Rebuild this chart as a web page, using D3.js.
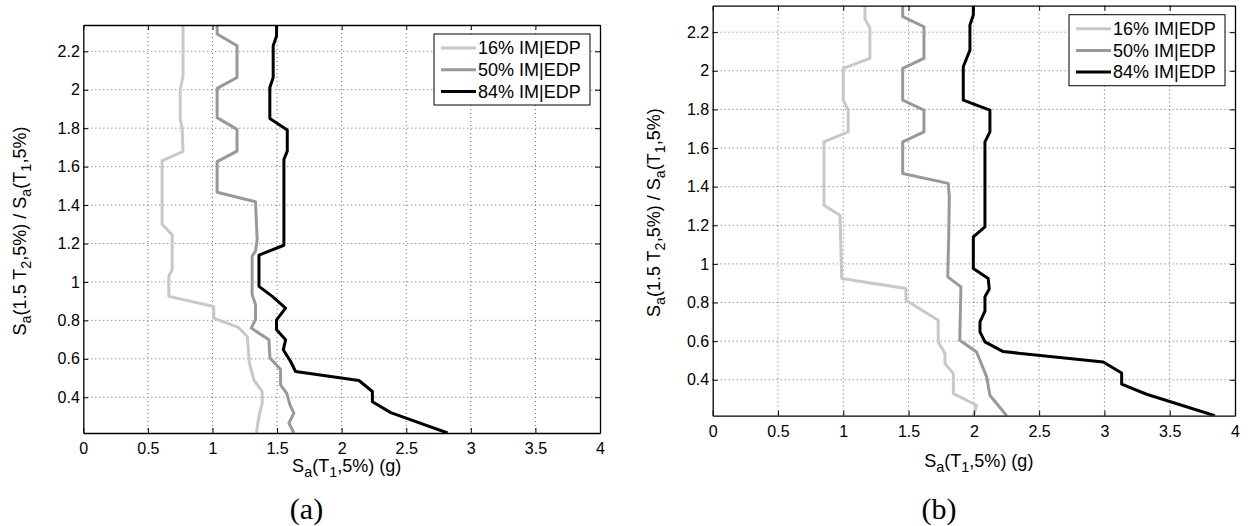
<!DOCTYPE html>
<meta charset="utf-8">
<style>
  body { margin: 0; background: #fff; }
  text { font-family: "Liberation Sans", Arial, sans-serif; }
</style>
<svg width="1253" height="526"></svg>
<script src="https://d3js.org/d3.v7.min.js"></script>
<script>
var svg = d3.select("svg");

// tick values shared by both panels
var xTicks = [0, 0.5, 1, 1.5, 2, 2.5, 3, 3.5, 4];
var xTickLabels = ["0", "0.5", "1", "1.5", "2", "2.5", "3", "3.5", "4"];
var yTicks = [0.4, 0.6, 0.8, 1, 1.2, 1.4, 1.6, 1.8, 2, 2.2];
var yTickLabels = ["0.4", "0.6", "0.8", "1", "1.2", "1.4", "1.6", "1.8", "2", "2.2"];
var yDomain = [0.214, 2.337];

var seriesNames = ["16% IM|EDP", "50% IM|EDP", "84% IM|EDP"];
var seriesColors = ["#c8c8c8", "#999999", "#000000"];

// panel (a): [Sa(T1), ratio] pairs
var a16 = [[0.772,2.337],[0.772,2.07],[0.75,2.0],[0.75,1.85],[0.765,1.80],[0.772,1.68],[0.61,1.63],[0.61,1.30],
  [0.688,1.245],[0.688,1.064],[0.662,1.03],[0.662,0.925],[1.01,0.872],[1.01,0.812],[1.204,0.762],[1.27,0.715],
  [1.285,0.58],[1.32,0.49],[1.385,0.43],[1.385,0.37],[1.36,0.30],[1.34,0.214]];
var a50 = [[1.036,2.337],[1.036,2.29],[1.19,2.229],[1.19,2.064],[1.036,2.007],[1.036,1.855],[1.19,1.794],[1.19,1.681],
  [1.036,1.626],[1.036,1.467],[1.333,1.417],[1.346,1.22],[1.333,1.16],[1.307,1.134],[1.307,0.934],[1.333,0.882],
  [1.333,0.803],[1.30,0.76],[1.437,0.699],[1.445,0.604],[1.527,0.545],[1.527,0.465],[1.575,0.42],[1.60,0.36],
  [1.63,0.317],[1.592,0.265],[1.63,0.214]];
var a84 = [[1.496,2.337],[1.496,2.28],[1.47,2.229],[1.47,2.064],[1.444,2.012],[1.444,1.85],[1.579,1.791],[1.579,1.681],
  [1.553,1.638],[1.553,1.191],[1.36,1.14],[1.36,0.977],[1.463,0.925],[1.566,0.864],[1.496,0.803],[1.496,0.751],
  [1.566,0.699],[1.548,0.647],[1.605,0.586],[1.643,0.534],[2.134,0.487],[2.238,0.43],[2.238,0.377],[2.38,0.32],
  [2.82,0.214]];

// panel (b)
var b16 = [[1.166,2.337],[1.166,2.27],[1.204,2.22],[1.204,2.064],[1.0,2.012],[1.0,1.848],[1.038,1.796],[1.038,1.684],
  [0.852,1.632],[0.852,1.304],[0.975,1.252],[0.988,0.924],[1.48,0.873],[1.48,0.812],[1.727,0.708],[1.727,0.596],
  [1.779,0.536],[1.779,0.484],[1.843,0.432],[1.843,0.328],[2.021,0.268],[1.996,0.214]];
var b50 = [[1.455,2.337],[1.455,2.28],[1.618,2.228],[1.618,2.064],[1.455,2.012],[1.455,1.848],[1.618,1.796],[1.618,1.684],
  [1.455,1.632],[1.455,1.468],[1.804,1.417],[1.812,1.347],[1.808,1.158],[1.80,0.933],[1.901,0.881],[1.892,0.605],
  [2.021,0.544],[2.098,0.415],[2.123,0.32],[2.251,0.214]];
var b84 = [[1.996,2.337],[1.996,2.289],[1.97,2.237],[1.97,2.107],[1.919,2.021],[1.919,1.848],[2.123,1.796],[2.123,1.684],
  [2.085,1.632],[2.085,1.192],[1.996,1.14],[1.996,0.976],[2.11,0.924],[2.118,0.87],[2.085,0.83],[2.085,0.755],
  [2.047,0.70],[2.047,0.648],[2.085,0.596],[2.225,0.546],[2.991,0.492],[3.132,0.435],[3.132,0.377],[3.323,0.325],
  [3.846,0.214]];

// write text made of [string, isSubscript] parts
function richText(sel, parts, size) {
  var prevSub = false;
  parts.forEach(function(p) {
    var t = sel.append("tspan").text(p[0]);
    if (p[1]) t.attr("font-size", size * 0.8).attr("dy", 5);
    else t.attr("font-size", size).attr("dy", prevSub ? -5 : 0);
    prevSub = !!p[1];
  });
}

var xLabelParts = [["S",0],["a",1],["(T",0],["1",1],[",5%) (g)",0]];
var yLabelParts = [["S",0],["a",1],["(1.5 T",0],["2",1],[",5%) / S",0],["a",1],["(T",0],["1",1],[",5%)",0]];

function drawPanel(p) {
  var x = d3.scaleLinear().domain([0, 4]).range([0, p.w]);
  var y = d3.scaleLinear().domain(yDomain).range([p.h, 0]);
  var g = svg.append("g").attr("transform", "translate(" + p.left + "," + p.top + ")");

  g.append("clipPath").attr("id", "clip" + p.id)
    .append("rect").attr("width", p.w).attr("height", p.h);

  // dotted grid
  g.selectAll(".gx").data(xTicks.slice(1, -1)).enter().append("line")
    .attr("x1", d => x(d)).attr("x2", d => x(d)).attr("y1", 0).attr("y2", p.h)
    .attr("stroke", "#666").attr("stroke-dasharray", "1,3").attr("stroke-width", 1);
  g.selectAll(".gy").data(yTicks).enter().append("line")
    .attr("y1", d => y(d)).attr("y2", d => y(d)).attr("x1", 0).attr("x2", p.w)
    .attr("stroke", "#666").attr("stroke-dasharray", "1,3").attr("stroke-width", 1);

  // curves
  var line = d3.line().x(d => x(d[0])).y(d => y(d[1]));
  g.append("g").attr("clip-path", "url(#clip" + p.id + ")")
    .selectAll("path").data(p.series).enter().append("path")
    .attr("d", line).attr("fill", "none")
    .attr("stroke", (d, i) => seriesColors[i])
    .attr("stroke-width", 3).attr("stroke-linejoin", "round");

  // axes, ticks pointing inward
  var bottom = g.append("g").attr("transform", "translate(0," + p.h + ")")
    .call(d3.axisBottom(x).tickValues(xTicks).tickFormat((d, i) => xTickLabels[i])
      .tickSizeInner(-5).tickSizeOuter(0).tickPadding(10));
  var left = g.append("g")
    .call(d3.axisLeft(y).tickValues(yTicks).tickFormat((d, i) => yTickLabels[i])
      .tickSizeInner(-5).tickSizeOuter(0).tickPadding(3.5));
  g.append("g").call(d3.axisTop(x).tickValues(xTicks).tickFormat("").tickSizeInner(-5).tickSizeOuter(0));
  g.append("g").attr("transform", "translate(" + p.w + ",0)")
    .call(d3.axisRight(y).tickValues(yTicks).tickFormat("").tickSizeInner(-5).tickSizeOuter(0));
  g.selectAll(".domain").attr("stroke", "#000").attr("stroke-width", 1.3);
  g.selectAll(".tick line").attr("stroke", "#000");
  [bottom, left].forEach(function(a) {
    a.attr("font-family", null).attr("font-size", null);
    a.selectAll("text").attr("font-size", 16).attr("fill", "#000");
  });

  // axis labels
  var xl = svg.append("text").attr("x", p.left + p.w / 2 + 5).attr("y", p.xLabelY)
    .attr("text-anchor", "middle");
  richText(xl, xLabelParts, 18);
  var yl = svg.append("text")
    .attr("transform", "translate(" + p.yLabelX + "," + (p.top + p.h / 2 + 2) + ") rotate(-90)")
    .attr("text-anchor", "middle");
  richText(yl, yLabelParts, 18);

  // legend
  var lg = g.append("g").attr("transform", "translate(" + (p.w - 10 - 156) + ",9)");
  lg.append("rect").attr("width", 156).attr("height", 71)
    .attr("fill", "#fff").attr("stroke", "#000").attr("stroke-width", 1);
  seriesNames.forEach(function(name, i) {
    var ly = 14 + i * 21.7;
    lg.append("line").attr("x1", 7).attr("x2", 42).attr("y1", ly).attr("y2", ly)
      .attr("stroke", seriesColors[i]).attr("stroke-width", 3);
    lg.append("text").attr("x", 44).attr("y", ly).attr("dy", "0.35em")
      .attr("font-size", 18).text(name);
  });

  // panel caption
  svg.append("text").attr("x", p.capX).attr("y", 519).attr("text-anchor", "middle")
    .style("font-family", "'Liberation Serif', 'Times New Roman', serif")
    .attr("font-size", 30).text(p.caption);
}

drawPanel({id: "a", left: 83.3, top: 25, w: 516.7, h: 408, series: [a16, a50, a84],
  xLabelY: 471.5, yLabelX: 26, capX: 306.5, caption: "(a)"});
drawPanel({id: "b", left: 712.7, top: 5.7, w: 522.3, h: 410, series: [b16, b50, b84],
  xLabelY: 466.5, yLabelX: 660, capX: 939, caption: "(b)"});
</script>
